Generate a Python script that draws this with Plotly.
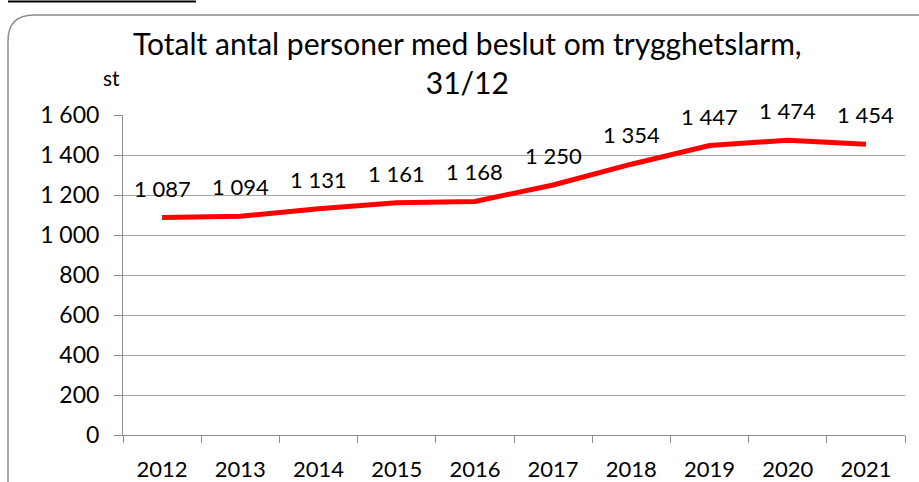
import plotly.graph_objects as go

years = ["2012", "2013", "2014", "2015", "2016", "2017", "2018", "2019", "2020", "2021"]
values = [1087, 1094, 1131, 1161, 1168, 1250, 1354, 1447, 1474, 1454]
value_labels = ["1 087", "1 094", "1 131", "1 161", "1 168", "1 250", "1 354", "1 447", "1 474", "1 454"]
y_ticks = [0, 200, 400, 600, 800, 1000, 1200, 1400, 1600]
y_ticktext = ["0", "200", "400", "600", "800", "1 000", "1 200", "1 400", "1 600"]

W, H = 919, 482
L, R, T, B = 123, 14, 115, 47
PW, PH = W - L - R, H - T - B

def px(x):
    return (x - L) / PW

def py(y):
    return (H - B - y) / PH

FONT = "Lato"

fig = go.Figure()
fig.add_trace(go.Scatter(
    x=years, y=values, mode="lines",
    line=dict(color="#FF0000", width=5),
    hoverinfo="skip", showlegend=False,
))

for i, (v, t) in enumerate(zip(values, value_labels)):
    fig.add_annotation(x=i, y=v, xref="x", yref="y", text=t, showarrow=False,
                       yanchor="bottom", yshift=14,
                       font=dict(family=FONT, size=22, color="#000"))

# rounded border
x0, y0, x1, y1, r = 8, 15, 935, 495, 26
path = (f"M {px(x0)},{py(y0 + r)} Q {px(x0)},{py(y0)} {px(x0 + r)},{py(y0)} "
        f"L {px(x1)},{py(y0)} M {px(x0)},{py(y0 + r)} L {px(x0)},{py(y1)}")
fig.add_shape(type="path", path=path, xref="paper", yref="paper",
              line=dict(color="#8C8C8C", width=1.5))
# underline fragment at top
fig.add_shape(type="line", xref="paper", yref="paper",
              x0=px(8), x1=px(196), y0=py(1.5), y1=py(1.5),
              line=dict(color="#000", width=2))

fig.add_annotation(xref="paper", yref="paper", x=px(467), y=py(63),
                   text="Totalt antal personer med beslut om trygghetslarm,<br>31/12",
                   showarrow=False, xanchor="center", yanchor="middle",
                   font=dict(family=FONT, size=30, color="#000"))
fig.add_annotation(xref="paper", yref="paper", x=px(111), y=py(78),
                   text="st", showarrow=False, xanchor="center", yanchor="middle",
                   font=dict(family=FONT, size=21, color="#000"))

fig.update_layout(
    width=W, height=H,
    margin=dict(l=L, r=R, t=T, b=B, autoexpand=False),
    paper_bgcolor="white", plot_bgcolor="white",
    font=dict(family=FONT, size=22, color="#000"),
    showlegend=False,
)
fig.update_xaxes(
    type="category", range=[-0.5, 9.5], tickson="boundaries",
    ticks="outside", ticklen=7, tickcolor="#8C8C8C", tickwidth=1,
    showline=True, linecolor="#8C8C8C", linewidth=1,
    showgrid=False, ticklabelstandoff=15,
    tickfont=dict(family=FONT, size=22),
    fixedrange=True,
)
fig.update_yaxes(
    range=[0, 1600], tickvals=y_ticks, ticktext=y_ticktext,
    ticks="outside", ticklen=8, tickcolor="#8C8C8C", tickwidth=1,
    showline=True, linecolor="#8C8C8C", linewidth=1,
    showgrid=True, gridcolor="#A6A6A6", gridwidth=1,
    zeroline=False, ticklabelstandoff=10,
    tickfont=dict(family=FONT, size=23),
    fixedrange=True,
)

fig.write_html("out.html", config={"displayModeBar": False},
               post_script="document.body.style.margin='0';document.body.style.overflow='hidden';")
